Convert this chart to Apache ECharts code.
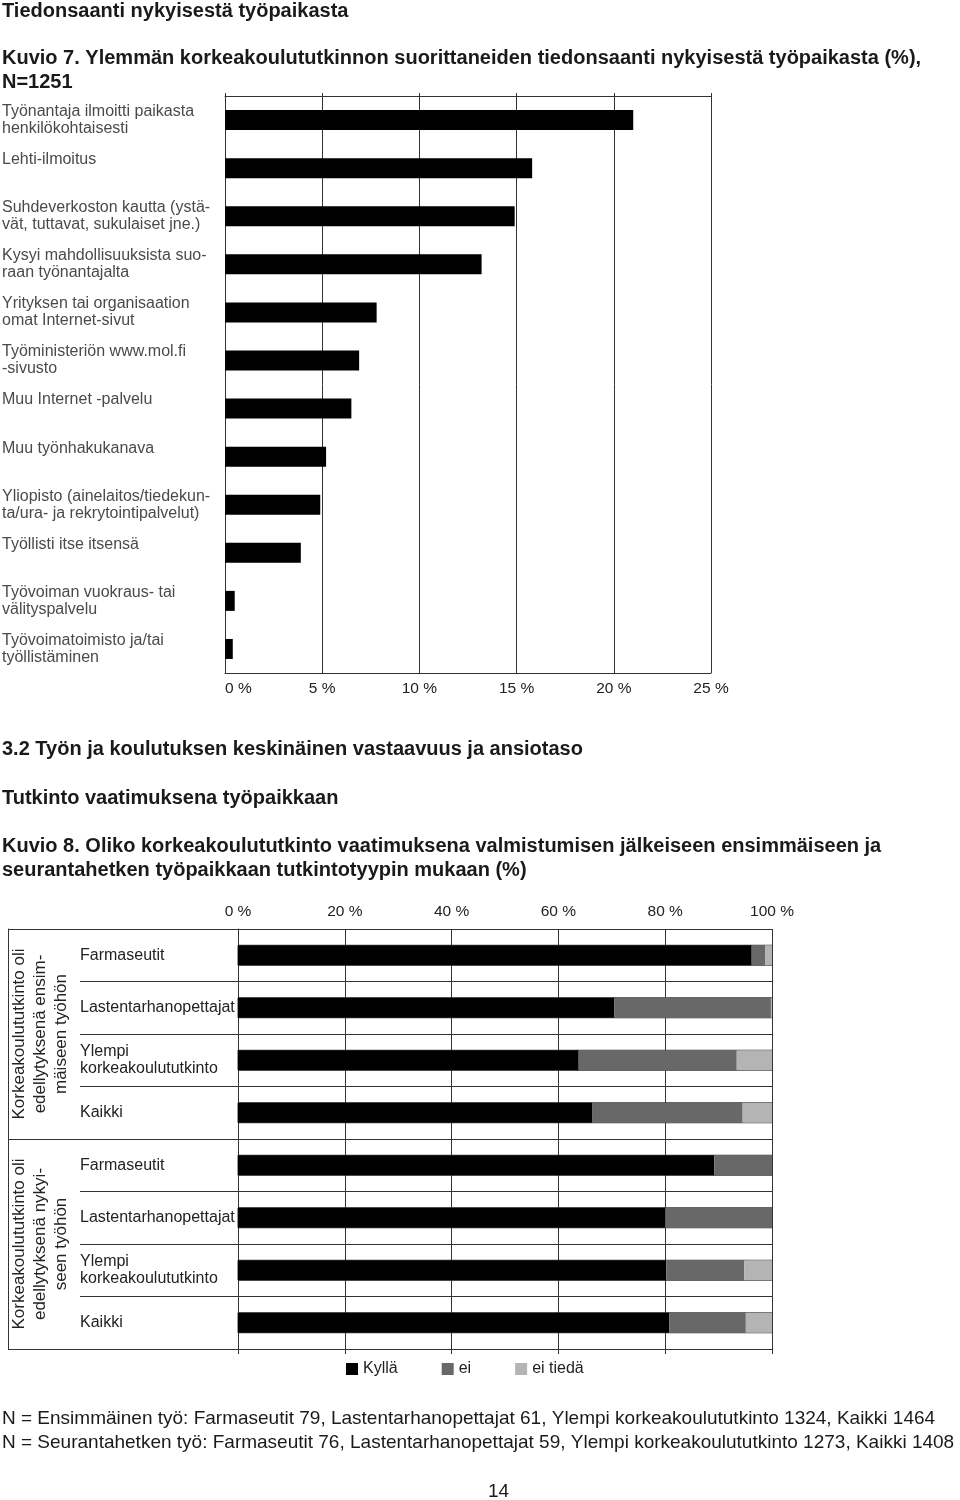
<!DOCTYPE html>
<html>
<head>
<meta charset="utf-8">
<title>Tiedonsaanti nykyisestä työpaikasta</title>
<script src="https://cdn.jsdelivr.net/npm/echarts@6/dist/echarts.min.js"></script>
<style>
  html, body { margin: 0; padding: 0; background: #fff; }
  #chart { width: 960px; height: 1500px; }
</style>
</head>
<body>
<div id="chart"></div>
<script>
  // Kuvio 7: tiedonsaanti nykyisestä työpaikasta (%)
  const kanavat = [
    'Työnantaja ilmoitti paikasta\nhenkilökohtaisesti',
    'Lehti-ilmoitus',
    'Suhdeverkoston kautta (ystä-\nvät, tuttavat, sukulaiset jne.)',
    'Kysyi mahdollisuuksista suo-\nraan työnantajalta',
    'Yrityksen tai organisaation\nomat Internet-sivut',
    'Työministeriön www.mol.fi\n-sivusto',
    'Muu Internet -palvelu',
    'Muu työnhakukanava',
    'Yliopisto (ainelaitos/tiedekun-\nta/ura- ja rekrytointipalvelut)',
    'Työllisti itse itsensä',
    'Työvoiman vuokraus- tai\nvälityspalvelu',
    'Työvoimatoimisto ja/tai\ntyöllistäminen',
  ];
  const kanavaOsuudet = [21.0, 15.8, 14.9, 13.2, 7.8, 6.9, 6.5, 5.2, 4.9, 3.9, 0.5, 0.4];
  const kuvio7Ticks = [0, 5, 10, 15, 20, 25];

  // Kuvio 8: tutkinto vaatimuksena työpaikkaan (%)
  const tutkinnot = ['Farmaseutit', 'Lastentarhanopettajat', 'Ylempi\nkorkeakoulututkinto', 'Kaikki'];
  const paneelit = [
    'Korkeakoulututkinto oli\nedellytyksenä ensim-\nmäiseen työhön',
    'Korkeakoulututkinto oli\nedellytyksenä nykyi-\nseen työhön',
  ];
  const vastaukset = ['Kyllä', 'ei', 'ei tiedä'];
  const ensimmainenKylla = [96.2, 70.5, 63.8, 66.3];
  const ensimmainenEi = [2.5, 29.3, 29.6, 28.2];
  const ensimmainenEiTieda = [1.3, 0.2, 6.6, 5.5];
  const seurantaKylla = [89.2, 80.0, 80.2, 80.8];
  const seurantaEi = [10.8, 20.0, 14.6, 14.3];
  const seurantaEiTieda = [0, 0, 5.2, 4.9];
  const kuvio8Ticks = [0, 20, 40, 60, 80, 100];

  const FONT = '"Liberation Sans", Arial, sans-serif';
  const LINE = '#333';
  const vastausVarit = ['#000000', '#686868', '#b4b4b4'];

  const kuvio8Rivit = tutkinnot.concat(tutkinnot);
  const kuvio8Data = [
    ensimmainenKylla.concat(seurantaKylla),
    ensimmainenEi.concat(seurantaEi),
    ensimmainenEiTieda.concat(seurantaEiTieda),
  ];

  const chart = echarts.init(document.getElementById('chart'));

  const text = (str, left, top, opts = {}) => ({
    type: 'text',
    left,
    top,
    style: {
      text: str,
      font: `${opts.bold ? 'bold ' : ''}${opts.size || 20}px ${FONT}`,
      fill: '#1a1a1a',
      lineHeight: opts.lineHeight || 22,
    },
  });

  const hiddenValueAxis = (gridIndex) => ({ type: 'value', gridIndex, show: false, min: 0, max: 100 });

  chart.setOption({
    animation: false,
    textStyle: { fontFamily: FONT },
    grid: [
      { left: 225, top: 96, width: 486, height: 577, outerBoundsMode: 'none' },
      { left: 238, top: 929, width: 534, height: 420, outerBoundsMode: 'none' },
      { left: 80, top: 929, width: 692, height: 420, outerBoundsMode: 'none' },
      { left: 8, top: 929, width: 764, height: 420, outerBoundsMode: 'none' },
    ],
    xAxis: [
      {
        type: 'value',
        gridIndex: 0,
        position: 'bottom',
        min: kuvio7Ticks[0],
        max: kuvio7Ticks[kuvio7Ticks.length - 1],
        interval: kuvio7Ticks[1] - kuvio7Ticks[0],
        axisLine: { show: true, lineStyle: { color: LINE, width: 1 } },
        axisTick: { show: false },
        splitLine: { show: true, lineStyle: { color: LINE, width: 1 } },
        axisLabel: { formatter: '{value} %', fontSize: 15.5, color: '#222', margin: 8, alignMinLabel: 'left' },
      },
      {
        type: 'value',
        gridIndex: 0,
        position: 'top',
        min: kuvio7Ticks[0],
        max: kuvio7Ticks[kuvio7Ticks.length - 1],
        interval: kuvio7Ticks[1] - kuvio7Ticks[0],
        axisLine: { show: true, lineStyle: { color: LINE, width: 1 } },
        axisTick: { show: true, length: 3, lineStyle: { color: LINE } },
        splitLine: { show: false },
        axisLabel: { show: false },
      },
      {
        type: 'value',
        gridIndex: 1,
        position: 'top',
        min: kuvio8Ticks[0],
        max: kuvio8Ticks[kuvio8Ticks.length - 1],
        interval: kuvio8Ticks[1] - kuvio8Ticks[0],
        axisLine: { show: true, lineStyle: { color: LINE, width: 1 } },
        axisTick: { show: false },
        splitLine: { show: true, lineStyle: { color: LINE, width: 1 } },
        axisLabel: { formatter: '{value} %', fontSize: 15.5, color: '#222', margin: 9 },
      },
      {
        type: 'value',
        gridIndex: 1,
        position: 'bottom',
        min: kuvio8Ticks[0],
        max: kuvio8Ticks[kuvio8Ticks.length - 1],
        interval: kuvio8Ticks[1] - kuvio8Ticks[0],
        axisLine: { show: true, lineStyle: { color: LINE, width: 1 } },
        axisTick: { show: true, length: 5, lineStyle: { color: LINE } },
        splitLine: { show: false },
        axisLabel: { show: false },
      },
      hiddenValueAxis(2),
      hiddenValueAxis(3),
    ],
    yAxis: [
      {
        type: 'category',
        gridIndex: 0,
        inverse: true,
        data: kanavat,
        axisLine: { show: true, lineStyle: { color: LINE, width: 1 } },
        axisTick: { show: false },
        splitLine: { show: false },
        axisLabel: {
          interval: 0,
          align: 'left',
          margin: 223,
          fontSize: 16,
          lineHeight: 17,
          color: '#4a4a4a',
          // yksirivisetkin nimet alkavat samalta korkeudelta kuin kaksiriviset
          formatter: (v) => (v.includes('\n') ? v : v + '\n '),
        },
      },
      {
        type: 'category',
        gridIndex: 1,
        inverse: true,
        data: kuvio8Rivit,
        axisLine: { show: true, lineStyle: { color: LINE, width: 1 } },
        axisTick: { show: false },
        splitLine: { show: false },
        axisLabel: {
          interval: 0,
          align: 'left',
          margin: 158,
          fontSize: 16,
          lineHeight: 17,
          color: '#222',
        },
      },
      {
        type: 'category',
        gridIndex: 2,
        inverse: true,
        data: kuvio8Rivit,
        axisLine: { show: false },
        axisTick: { show: false },
        axisLabel: { show: false },
        splitLine: { show: true, interval: 0, lineStyle: { color: LINE, width: 1 } },
      },
      {
        type: 'category',
        gridIndex: 3,
        inverse: true,
        data: paneelit,
        axisLine: { show: true, lineStyle: { color: LINE, width: 1 } },
        axisTick: { show: false },
        splitLine: { show: true, interval: 0, lineStyle: { color: LINE, width: 1 } },
        axisLabel: {
          interval: 0,
          inside: true,
          rotate: 90,
          margin: 32,
          align: 'center',
          verticalAlign: 'middle',
          fontSize: 17,
          lineHeight: 21,
          color: '#222',
        },
      },
    ],
    legend: {
      data: vastaukset,
      left: 346,
      top: 1361,
      padding: 0,
      icon: 'rect',
      itemWidth: 12,
      itemHeight: 12,
      itemGap: 44,
      textStyle: { fontSize: 16, color: '#222', fontFamily: FONT },
    },
    series: [
      {
        name: 'tiedonsaanti',
        type: 'bar',
        xAxisIndex: 0,
        yAxisIndex: 0,
        data: kanavaOsuudet,
        barWidth: 20,
        itemStyle: { color: '#000' },
      },
    ].concat(
      vastaukset.map((nimi, i) => ({
        name: nimi,
        type: 'bar',
        stack: 'vastaus',
        xAxisIndex: 2,
        yAxisIndex: 1,
        data: kuvio8Data[i],
        barWidth: 20,
        itemStyle: { color: vastausVarit[i] },
        showBackground: i === 0,
        backgroundStyle: { color: 'rgba(0,0,0,0)', borderColor: LINE, borderWidth: 1 },
      }))
    ),
    graphic: [
      text('Tiedonsaanti nykyisestä työpaikasta', 2, 0, { bold: true }),
      text(
        'Kuvio 7. Ylemmän korkeakoulututkinnon suorittaneiden tiedonsaanti nykyisestä työpaikasta (%),\nN=1251',
        2, 46, { bold: true, lineHeight: 24 }
      ),
      text('3.2 Työn ja koulutuksen keskinäinen vastaavuus ja ansiotaso', 2, 738, { bold: true }),
      text('Tutkinto vaatimuksena työpaikkaan', 2, 787, { bold: true }),
      text(
        'Kuvio 8. Oliko korkeakoulututkinto vaatimuksena valmistumisen jälkeiseen ensimmäiseen ja\nseurantahetken työpaikkaan tutkintotyypin mukaan (%)',
        2, 834, { bold: true, lineHeight: 24 }
      ),
      text(
        'N = Ensimmäinen työ: Farmaseutit 79, Lastentarhanopettajat 61, Ylempi korkeakoulututkinto 1324, Kaikki 1464\nN = Seurantahetken työ: Farmaseutit 76, Lastentarhanopettajat 59, Ylempi korkeakoulututkinto 1273, Kaikki 1408',
        2, 1407, { size: 19, lineHeight: 24 }
      ),
      text('14', 488, 1481, { size: 19 }),
    ],
  });
</script>
</body>
</html>
